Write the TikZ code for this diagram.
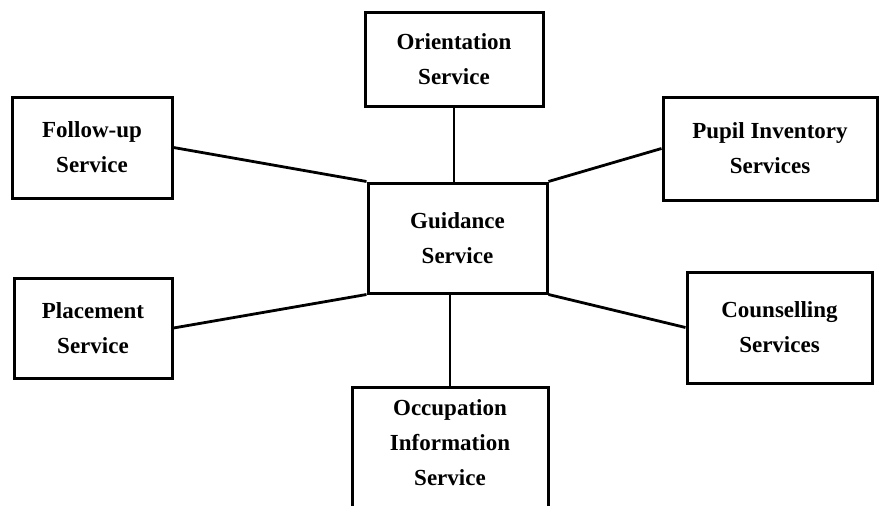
\documentclass[tikz,border=0pt]{standalone}
\usepackage{fontspec}
\setmainfont{Liberation Serif}
\begin{document}
\begin{tikzpicture}[x=1pt,y=-1pt,
  svcbox/.style={draw, line width=3pt, align=center, inner sep=0pt,
    font=\fontsize{23}{35}\selectfont\bfseries},
  link/.style={line width=2.8pt}]
\useasboundingbox (0,0) rectangle (887,506);
\node[svcbox, minimum width=178pt, minimum height=94pt] (or) at (454,59) {Orientation\\Service};
\node[svcbox, minimum width=160pt, minimum height=101pt] (fu) at (92,147.5) {Follow-up\\Service};
\node[svcbox, minimum width=214pt, minimum height=103pt] (pi) at (770,148.5) {Pupil Inventory\\Services};
\node[svcbox, minimum width=179pt, minimum height=110pt] (gs) at (457.5,238) {Guidance\\Service};
\node[svcbox, minimum width=158pt, minimum height=100pt] (pl) at (93,328) {Placement\\Service};
\node[svcbox, minimum width=185pt, minimum height=111pt] (co) at (779.5,327.5) {Counselling\\Services};
\node[svcbox, minimum width=196pt, minimum height=146pt, text depth=34pt] (oc) at (450,460) {Occupation\\Information\\Service};
\draw[link] (or.south) -- (or.south |- gs.north);
\draw[link] (gs.south -| oc.north) -- (oc.north);
\draw[link] (fu.east) -- (gs.north west);
\draw[link] (pi.west) -- (gs.north east);
\draw[link] (pl.east) -- (gs.south west);
\draw[link] (co.west) -- (gs.south east);
\end{tikzpicture}
\end{document}
